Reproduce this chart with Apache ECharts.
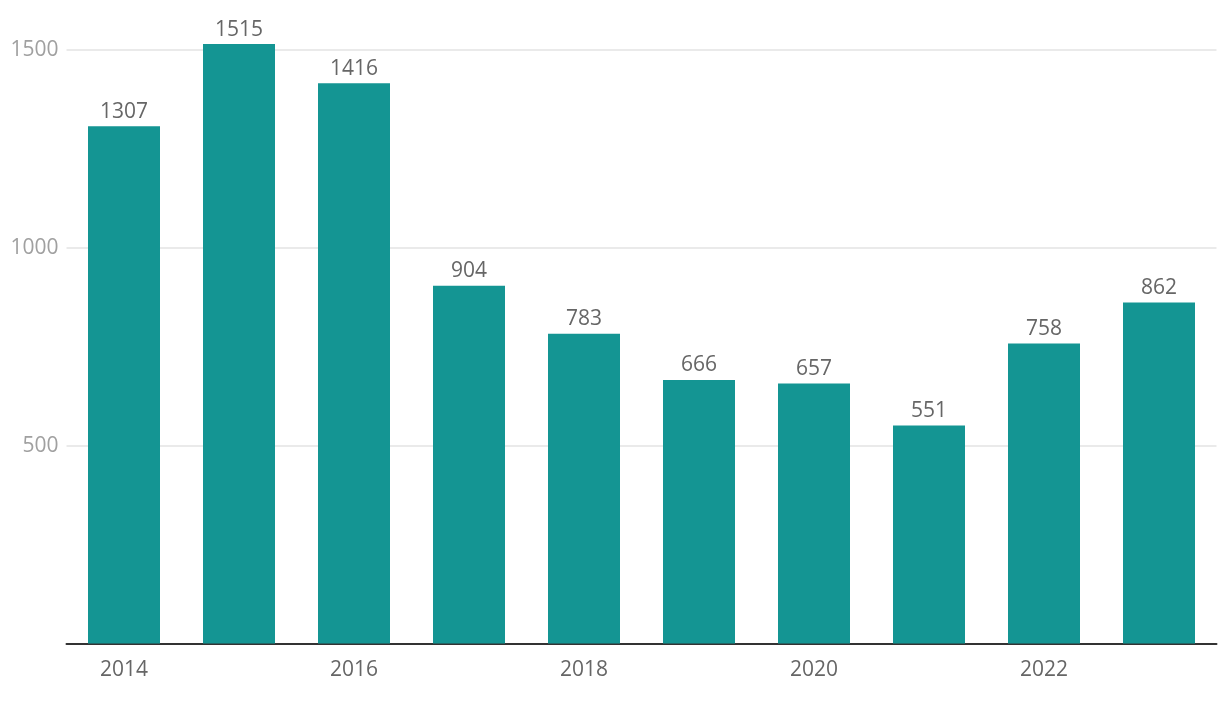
<!DOCTYPE html>
<html><head><meta charset="utf-8">
<script src="https://cdn.jsdelivr.net/npm/echarts@6/dist/echarts.min.js"></script>
<style>html,body{margin:0;padding:0;background:#fff}#c{width:1220px;height:706px}</style>
</head><body><div id="c"></div>
<script>
const categories = ['2014','2015','2016','2017','2018','2019','2020','2021','2022','2023'];
const values = [1307, 1515, 1416, 904, 783, 666, 657, 551, 758, 862];
const yTicks = {min: 0, max: 1500, interval: 500};
const FONT = 'Open Sans';
const chart = echarts.init(document.getElementById('c'), null, {renderer: 'canvas'});
chart.setOption({
  animation: false,
  grid: {left: 66.5, right: 3.5, top: 50, bottom: 62.5, containLabel: false},
  xAxis: {
    type: 'category', data: categories,
    axisLine: {lineStyle: {color: '#333', width: 2}},
    axisTick: {show: false},
    axisLabel: {interval: 1, color: '#666', fontSize: 21, fontFamily: FONT, margin: 16}
  },
  yAxis: {
    type: 'value', min: yTicks.min, max: yTicks.max, interval: yTicks.interval,
    axisLine: {show: false}, axisTick: {show: false},
    splitLine: {lineStyle: {color: '#e3e3e3', width: 1.5}},
    axisLabel: {color: '#a0a0a0', fontSize: 21, fontFamily: FONT, margin: 8,
      formatter: v => v === 0 ? '' : String(v)}
  },
  series: [{
    type: 'bar', data: values, barWidth: 72, clip: false,
    itemStyle: {color: '#149593'},
    label: {show: true, position: 'top', distance: 4, color: '#666', fontSize: 21, fontFamily: FONT}
  }]
});
</script></body></html>
